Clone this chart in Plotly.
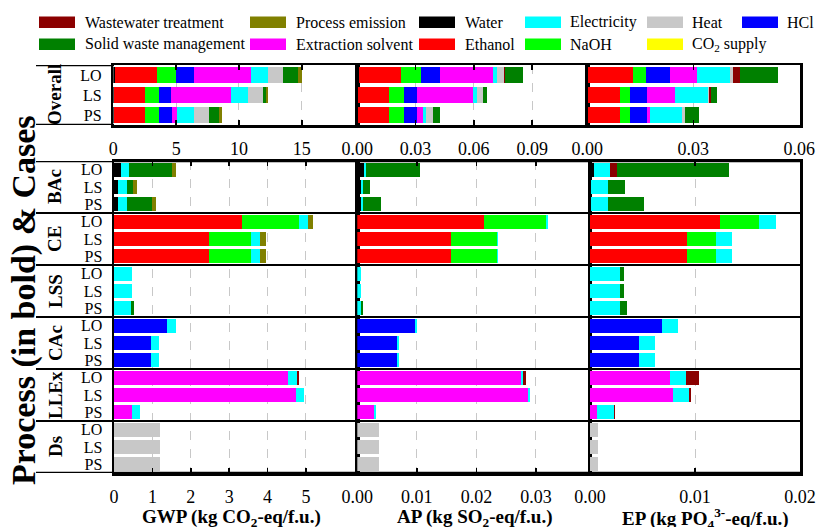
import plotly.graph_objects as go

W, H = 817, 527

CASES = ["LO", "LS", "PS"]
PROCESSES = ["BAc", "CE", "LSS", "CAc", "LLEx", "Ds"]
SOURCES = ["Water", "Ethanol", "NaOH", "HCl", "Extraction solvent", "Electricity",
           "Heat", "Wastewater treatment", "Solid waste management", "Process emission", "CO2 supply"]
COLORS = {
    "Wastewater treatment": "#8b0000", "Process emission": "#808000", "Water": "#000000",
    "Electricity": "#00ffff", "Heat": "#c8c8c8", "HCl": "#0000ff",
    "Solid waste management": "#008000", "Extraction solvent": "#ff00ff", "Ethanol": "#ff0000",
    "NaOH": "#00ff00", "CO2 supply": "#ffff00",
}
LEGEND_ROW1 = ["Wastewater treatment", "Process emission", "Water", "Electricity", "Heat", "HCl"]
LEGEND_ROW2 = ["Solid waste management", "Extraction solvent", "Ethanol", "NaOH", "CO2 supply"]
LEGEND_LABELS = {"CO2 supply": "CO<sub>2</sub> supply"}

# ---- GWP (kg CO2-eq/f.u.), values per case [LO, LS, PS] ----
GWP_OVERALL = {"Water": [0.10, 0.07, 0.07], "Ethanol": [3.35, 2.45, 2.45], "NaOH": [1.51, 1.14, 1.14],
               "HCl": [1.46, 0.93, 0.98], "Extraction solvent": [4.51, 4.77, 0.40],
               "Electricity": [1.35, 1.33, 1.38], "Heat": [1.19, 1.20, 1.19],
               "Wastewater treatment": [0.04, 0.0, 0.0], "Solid waste management": [1.21, 0.23, 0.80],
               "Process emission": [0.27, 0.21, 0.26]}
GWP_BAC = {"Water": [0.17, 0.11, 0.11], "Electricity": [0.23, 0.22, 0.22],
           "Solid waste management": [1.12, 0.16, 0.65], "Process emission": [0.09, 0.10, 0.11]}
GWP_CE = {"Ethanol": [3.34, 2.47, 2.47], "NaOH": [1.49, 1.09, 1.10], "Electricity": [0.23, 0.24, 0.23],
          "Process emission": [0.13, 0.15, 0.15]}
GWP_LSS = {"Electricity": [0.46, 0.46, 0.43], "Solid waste management": [0.0, 0.0, 0.08]}
GWP_CAC = {"HCl": [1.39, 0.96, 0.96], "Electricity": [0.22, 0.22, 0.22]}
GWP_LLEX = {"Extraction solvent": [4.54, 4.73, 0.47], "Electricity": [0.22, 0.21, 0.22],
            "Wastewater treatment": [0.06, 0.0, 0.0]}
GWP_DS = {"Heat": [1.21, 1.21, 1.19]}

# ---- AP (kg SO2-eq/f.u.) ----
AP_OVERALL = {"Water": [0.0008, 0.0005, 0.0005], "Ethanol": [0.0215, 0.0158, 0.0158],
              "NaOH": [0.0105, 0.0077, 0.0077], "HCl": [0.0098, 0.0066, 0.0066],
              "Extraction solvent": [0.0274, 0.0291, 0.0030], "Electricity": [0.0017, 0.0017, 0.0018],
              "Heat": [0.0038, 0.0034, 0.0037], "Wastewater treatment": [0.0007, 0.0, 0.0],
              "Solid waste management": [0.0092, 0.0018, 0.0035]}
AP_BAC = {"Water": [0.0011, 0.0006, 0.0006], "Electricity": [0.0004, 0.0004, 0.0004],
          "Solid waste management": [0.0091, 0.0012, 0.0030]}
AP_CE = {"Ethanol": [0.0212, 0.0157, 0.0157], "NaOH": [0.0105, 0.0077, 0.0077],
         "Electricity": [0.0003, 0.0003, 0.0003]}
AP_LSS = {"Electricity": [0.0007, 0.0007, 0.0006], "Solid waste management": [0.0, 0.0, 0.0003]}
AP_CAC = {"HCl": [0.0097, 0.0067, 0.0067], "Electricity": [0.0003, 0.0003, 0.0003]}
AP_LLEX = {"Extraction solvent": [0.0275, 0.0286, 0.0028], "Electricity": [0.0003, 0.0004, 0.0003],
           "Wastewater treatment": [0.0006, 0.0, 0.0]}
AP_DS = {"Heat": [0.0036, 0.0036, 0.0036]}

# ---- EP (kg PO4 3- -eq/f.u.) ----
EP_OVERALL = {"Water": [0.0002, 0.0001, 0.0001], "Ethanol": [0.0126, 0.0092, 0.0092],
              "NaOH": [0.0038, 0.0028, 0.0028], "HCl": [0.0068, 0.0049, 0.0049],
              "Extraction solvent": [0.0077, 0.0078, 0.0007], "Electricity": [0.0093, 0.0093, 0.0092],
              "Heat": [0.0007, 0.0004, 0.0008], "Wastewater treatment": [0.0021, 0.0004, 0.0],
              "Solid waste management": [0.0107, 0.0019, 0.0040]}
EP_BAC = {"Water": [0.0004, 0.0001, 0.0001], "Electricity": [0.0015, 0.0016, 0.0016],
          "Wastewater treatment": [0.0007, 0.0, 0.0], "Solid waste management": [0.0106, 0.0016, 0.0034]}
EP_CE = {"Ethanol": [0.0124, 0.0092, 0.0092], "NaOH": [0.0037, 0.0028, 0.0028],
         "Electricity": [0.0016, 0.0015, 0.0015]}
EP_LSS = {"Electricity": [0.0029, 0.0029, 0.0029], "Solid waste management": [0.0003, 0.0003, 0.0006]}
EP_CAC = {"HCl": [0.0069, 0.0047, 0.0047], "Electricity": [0.0015, 0.0015, 0.0015]}
EP_LLEX = {"Extraction solvent": [0.0076, 0.0079, 0.0007], "Electricity": [0.0015, 0.0015, 0.0016],
           "Wastewater treatment": [0.0013, 0.0002, 0.0001]}
EP_DS = {"Heat": [0.0008, 0.0008, 0.00075]}

GWP_PROC = {"BAc": GWP_BAC, "CE": GWP_CE, "LSS": GWP_LSS, "CAc": GWP_CAC, "LLEx": GWP_LLEX, "Ds": GWP_DS}
AP_PROC = {"BAc": AP_BAC, "CE": AP_CE, "LSS": AP_LSS, "CAc": AP_CAC, "LLEx": AP_LLEX, "Ds": AP_DS}
EP_PROC = {"BAc": EP_BAC, "CE": EP_CE, "LSS": EP_LSS, "CAc": EP_CAC, "LLEx": EP_LLEX, "Ds": EP_DS}

AXIS_TITLES = ["<b>GWP (kg CO<sub>2</sub>-eq/f.u.)</b>", "<b>AP (kg SO<sub>2</sub>-eq/f.u.)</b>",
               "<b>EP (kg PO<sub>4</sub><sup>3-</sup>-eq/f.u.)</b>"]
Y_TITLE = "<b>Process (in bold) & Cases</b>"

FONT = "Liberation Serif"


def px(x):
    return x / W


def py(y):
    return 1 - y / H


fig = go.Figure()

NROW = 3 * len(PROCESSES)
top_y = [2 - j for j in range(3)]
bot_y = [NROW - 1 - (3 * i + j) for i in range(len(PROCESSES)) for j in range(3)]


def add_overall(data, xa, ya):
    for s in SOURCES:
        vals = data.get(s, [0, 0, 0])
        fig.add_trace(go.Bar(y=top_y, x=vals, orientation="h", width=0.83, name=s,
                             marker=dict(color=COLORS[s], line=dict(width=0)),
                             xaxis=xa, yaxis=ya, showlegend=False))


def add_procs(procdata, xa, ya):
    for s in SOURCES:
        xs = []
        for p in PROCESSES:
            xs.extend(procdata[p].get(s, [0, 0, 0]))
        fig.add_trace(go.Bar(y=bot_y, x=xs, orientation="h", width=0.8, name=s,
                             marker=dict(color=COLORS[s], line=dict(width=0)),
                             xaxis=xa, yaxis=ya, showlegend=False))


add_overall(GWP_OVERALL, "x", "y")
add_overall(AP_OVERALL, "x2", "y2")
add_overall(EP_OVERALL, "x3", "y3")
add_procs(GWP_PROC, "x4", "y4")
add_procs(AP_PROC, "x5", "y5")
add_procs(EP_PROC, "x6", "y6")

TOP_Y = (65, 125)
BOT_Y = (161, 473)
TOP_X = [(113.3, 357.0), (357.3, 587.3), (587.3, 800.0)]
BOT_X = [(114.0, 357.0), (357.3, 589.5), (590.0, 800.0)]
TOP_RANGE = [19.39, 0.1184, 0.0602]
BOT_RANGE = [6.33, 0.0390, 0.02]
TOP_TICKS = [[0, 5, 10, 15], [0, 0.03, 0.06, 0.09], [0, 0.03, 0.06]]
BOT_TICKS = [[0, 1, 2, 3, 4, 5], [0, 0.01, 0.02, 0.03], [0, 0.01, 0.02]]
FMT = ["d", ".2f", ".2f"]


def xax(dom, rng, ticks, fmt, anchor):
    return dict(domain=[px(dom[0]), px(dom[1])], range=[0, rng], anchor=anchor,
                tickvals=ticks, tickformat=fmt, automargin=False,
                showline=True, linewidth=2.5, linecolor="black", mirror="ticks",
                ticks="inside", ticklen=5, tickwidth=1.5, tickcolor="black",
                showgrid=True, gridcolor="#c8c8c8", griddash="dash", gridwidth=1,
                zeroline=False, tickfont=dict(size=18, family=FONT, color="black"),
                ticklabelstandoff=6, fixedrange=True)


def yax(dom, nrows, anchor, labels):
    d = dict(domain=[py(dom[1]), py(dom[0])], range=[-0.5, nrows - 0.5], anchor=anchor,
             showline=True, linewidth=2.5, linecolor="black", mirror=True, automargin=False,
             ticks="", showgrid=False, zeroline=False, fixedrange=True,
             tickfont=dict(size=16, family=FONT, color="black"))
    if labels:
        d.update(tickvals=list(range(nrows)), ticktext=[CASES[2 - (k % 3)] for k in range(nrows)],
                 showticklabels=True, ticklabelstandoff=6)
    else:
        d.update(showticklabels=False)
    return d


layout = dict(width=W, height=H, margin=dict(l=0, r=0, t=0, b=0, pad=0, autoexpand=False),
              plot_bgcolor="white", paper_bgcolor="white", barmode="stack",
              font=dict(family=FONT, color="black"), showlegend=False)
for k in range(3):
    xn = "xaxis" if k == 0 else f"xaxis{k + 1}"
    yn = "yaxis" if k == 0 else f"yaxis{k + 1}"
    ya = "y" if k == 0 else f"y{k + 1}"
    xa = "x" if k == 0 else f"x{k + 1}"
    layout[xn] = xax(TOP_X[k], TOP_RANGE[k], TOP_TICKS[k], FMT[k], ya)
    layout[yn] = yax(TOP_Y, 3, xa, k == 0)
    layout[f"xaxis{k + 4}"] = xax(BOT_X[k], BOT_RANGE[k], BOT_TICKS[k], FMT[k], f"y{k + 4}")
    layout[f"yaxis{k + 4}"] = yax(BOT_Y, NROW, f"x{k + 4}", k == 0)
fig.update_layout(**layout)

shapes = []
annotations = []
# horizontal frame / separator lines extending to the label area
for yv in [-0.5, 2.5]:
    shapes.append(dict(type="line", xref="paper", yref="y", x0=px(36), x1=px(114), y0=yv, y1=yv,
                       line=dict(color="black", width=2.5)))
for g in range(len(PROCESSES) + 1):
    yv = NROW - 0.5 - 3 * g
    shapes.append(dict(type="line", xref="paper", yref="y4", x0=px(36), x1=px(800), y0=yv, y1=yv,
                       line=dict(color="black", width=2.5 if g in (0, len(PROCESSES)) else 2)))

# process labels
annotations.append(dict(text="<b>Overall</b>", xref="paper", yref="y", x=px(55), y=1, textangle=-90,
                        xanchor="center", yanchor="middle",
                        showarrow=False, font=dict(size=19, family=FONT, color="black")))
for i, p in enumerate(PROCESSES):
    annotations.append(dict(text=f"<b>{p}</b>", xref="paper", yref="y4", x=px(55), y=NROW - 2 - 3 * i,
                            textangle=-90, showarrow=False, xanchor="center", yanchor="middle",
                            font=dict(size=19, family=FONT, color="black")))
# y title
annotations.append(dict(text=Y_TITLE, xref="paper", yref="paper", x=px(24), y=py(300), textangle=-90,
                        xanchor="center", yanchor="middle",
                        showarrow=False, font=dict(size=34, family=FONT, color="black")))
# x titles
for cx, t in zip([231, 475, 705], AXIS_TITLES):
    annotations.append(dict(text=t, xref="paper", yref="paper", x=px(cx), y=py(518),
                            xanchor="center", yanchor="middle", showarrow=False,
                            font=dict(size=19, family=FONT, color="black")))

# legend
SW_X = [39, 250, 419, 525, 647, 742]
TX_X = [85, 296, 465, 570, 692, 787]
for row, (items, yc) in enumerate([(LEGEND_ROW1, 22.2), (LEGEND_ROW2, 44.3)]):
    for k, s in enumerate(items):
        shapes.append(dict(type="rect", xref="paper", yref="paper", x0=px(SW_X[k]), x1=px(SW_X[k] + 36),
                           y0=py(yc + 5.7), y1=py(yc - 5.7), fillcolor=COLORS[s], line=dict(width=0)))
        annotations.append(dict(text=LEGEND_LABELS.get(s, s), xref="paper", yref="paper",
                                x=px(TX_X[k] - 2), y=py(yc), xanchor="left", yanchor="middle",
                                showarrow=False, font=dict(size=16, family=FONT, color="black")))

fig.update_layout(shapes=shapes, annotations=annotations)
fig.write_html("out.html", config={"displayModeBar": False, "staticPlot": True},
               post_script="document.body.style.margin='0px';")
